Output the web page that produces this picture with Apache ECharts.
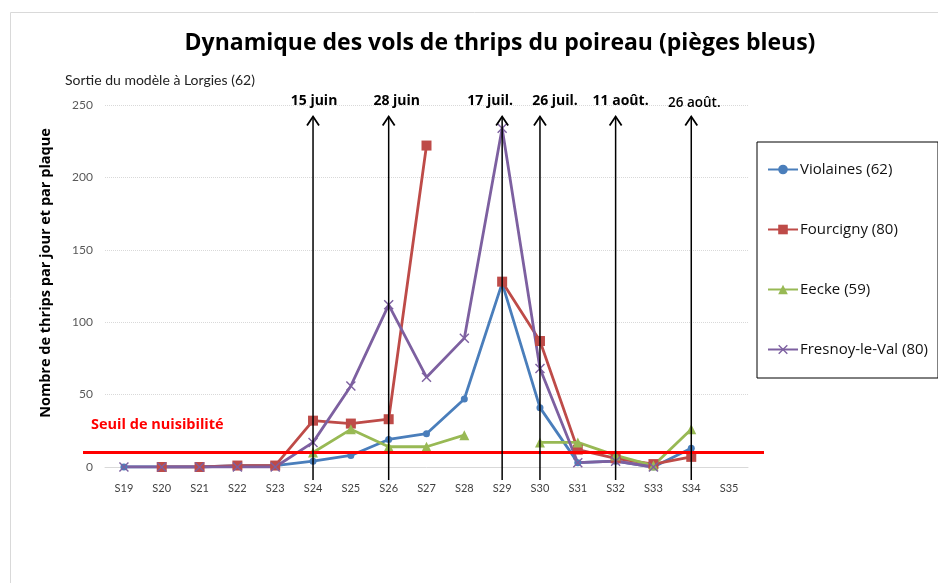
<!DOCTYPE html>
<html lang="fr">
<head>
    <meta charset="UTF-8">
    <title>Dynamique des vols de thrips du poireau</title>
    <script src="https://cdn.jsdelivr.net/npm/echarts@6/dist/echarts.min.js"></script>
</head>
<body style="margin:0;background:#fff;">
    <div id="chart" style="width:938px;height:583px;"></div>
<script>
    var weeks = ['S19','S20','S21','S22','S23','S24','S25','S26','S27','S28','S29','S30','S31','S32','S33','S34','S35'];
    var violaines = [0, 0, 0, 1, 1, 4, 8, 19, 23, 47, 127, 41, 3, 4, 0, 13, null];
    var fourcigny = [null, 0, 0, 1, 1, 32, 30, 33, 222, null, 128, 87, 12, 6, 2, 7, null];
    var eecke = [null, null, null, null, null, 10, 26, 14, 14, 22, null, 17, 17, 8, 1, 26, null];
    var fresnoy = [0, 0, 0, 0, 0, 17, 56, 112, 62, 89, 234, 68, 3, 4, 0, null, null];
    var seuil = 10;
    // arrows : week, label
    var arrowWeeks = ['S24','S26','S29','S30','S32','S34'];
    var arrowLabels = ['15 juin','28 juin','17 juil.','26 juil.','11 août.','26 août.'];
    var labelShift = [1, 8, -12, 15, 5, 3];   // labels are not centred on their arrows

    var font = 'Lato, "Open Sans", sans-serif';
    var fontB = '"Open Sans", Lato, sans-serif';
    var chart = echarts.init(document.getElementById('chart'));
    var xMark = 'path://M0,1L1,0L5,4L9,0L10,1L6,5L10,9L9,10L5,6L1,10L0,9L4,5Z';

    function serie(name, data, color, symbol, size) {
        return {
            name: name,
            type: 'line',
            data: data,
            symbol: symbol,
            symbolSize: size,
            showAllSymbol: true,
            connectNulls: false,
            lineStyle: {color: color, width: 2.8},
            itemStyle: {color: color}
        };
    }

    chart.setOption({
        animation: false,
        textStyle: {fontFamily: font},
        title: [{
            text: 'Dynamique des vols de thrips du poireau (pièges bleus)',
            left: 495, top: 27, textAlign: 'center',
            textStyle: {fontSize: 23, fontWeight: 'bold', color: '#000', fontFamily: fontB}
        }, {
            text: 'Sortie du modèle à Lorgies (62)',
            left: 60, top: 68,
            textStyle: {fontSize: 14, fontWeight: 'normal', color: '#222', fontFamily: font}
        }],
        legend: {
            orient: 'vertical',
            left: 757, top: 142,
            padding: [20, 10, 21, 10],
            itemGap: 45,
            itemWidth: 30, itemHeight: 12,
            borderColor: '#000', borderWidth: 1,
            textStyle: {fontSize: 15, color: '#111', fontFamily: fontB, padding: [0, 0, 0, -3]},
            data: ['Violaines (62)', 'Fourcigny (80)', 'Eecke (59)', 'Fresnoy-le-Val (80)']
        },
        grid: {left: 105, right: 190, top: 105, bottom: 116},
        xAxis: {
            type: 'category',
            data: weeks,
            boundaryGap: true,
            axisLine: {lineStyle: {color: '#d9d9d9'}},
            axisTick: {show: false},
            axisLabel: {color: '#404040', fontSize: 11, margin: 16}
        },
        yAxis: {
            type: 'value',
            min: 0, max: 250, interval: 50,
            axisLine: {show: false},
            axisTick: {show: false},
            axisLabel: {color: '#595959', fontSize: 12, margin: 12},
            splitLine: {lineStyle: {color: '#d9d9d9', type: 'dotted'}}
        },
        series: [
            serie('Violaines (62)', violaines, '#4a7ebb', 'circle', 7),
            serie('Fourcigny (80)', fourcigny, '#be4b48', 'rect', 10),
            serie('Eecke (59)', eecke, '#98b954', 'triangle', 10),
            serie('Fresnoy-le-Val (80)', fresnoy, '#7d60a0', xMark, 10)
        ]
    });

    // overlay: border, axis name, threshold line, arrows, texts
    var yS = chart.convertToPixel({yAxisIndex: 0}, seuil);
    var yTop = chart.convertToPixel({yAxisIndex: 0}, 242);
    var yBot = chart.convertToPixel({yAxisIndex: 0}, -9);
    var g = [
        {type: 'rect', shape: {x: 10.5, y: 12.5, width: 1000, height: 1000}, style: {fill: null, stroke: '#d9d9d9', lineWidth: 1}, z: 0},
        {type: 'text', x: 46, y: 273, rotation: Math.PI / 2,
            style: {text: 'Nombre de thrips par jour et par plaque', fill: '#000', font: 'bold 14.5px ' + fontB, textAlign: 'center', textVerticalAlign: 'middle'}},
        {type: 'line', shape: {x1: 83, y1: yS, x2: 764, y2: yS}, style: {stroke: '#ff0000', lineWidth: 3}, z: 100},
        {type: 'text', left: 91, top: yS - 35, style: {text: 'Seuil de nuisibilité', fill: '#ff0000', font: 'bold 14.5px ' + fontB}, z: 100}
    ];
    arrowWeeks.forEach(function (w, i) {
        var x = chart.convertToPixel({xAxisIndex: 0}, w);
        g.push({type: 'line', shape: {x1: x, y1: yTop, x2: x, y2: yBot}, style: {stroke: '#000', lineWidth: 1.5}, z: 100});
        g.push({type: 'polyline', shape: {points: [[x - 6, yTop + 9], [x, yTop], [x + 6, yTop + 9]]}, style: {stroke: '#000', lineWidth: 1.8, fill: null}, z: 100});
        var last = i === arrowLabels.length - 1;
        g.push({type: 'text', x: x + labelShift[i], y: last ? yTop - 6 : yTop - 9,
            style: {text: arrowLabels[i], fill: '#000', font: (last ? '600 13.5px ' : 'bold 14px ') + fontB, textAlign: 'center', textVerticalAlign: 'bottom'}, z: 100});
    });
    chart.setOption({graphic: g});
</script>
</body>
</html>
